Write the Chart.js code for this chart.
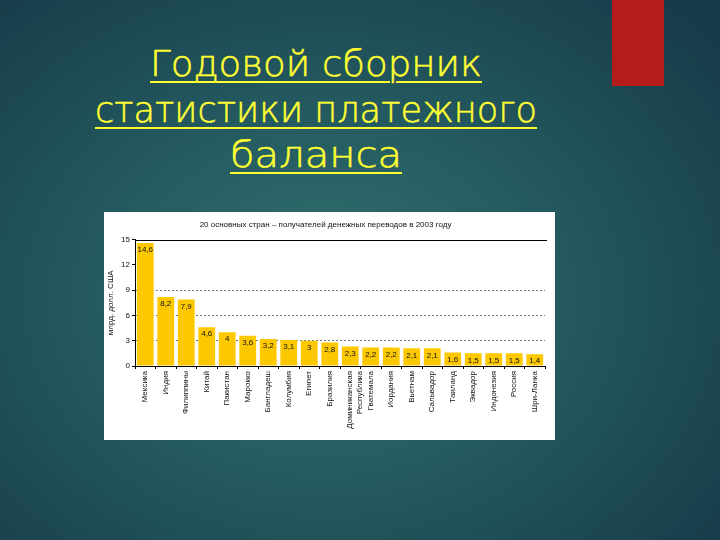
<!DOCTYPE html>
<html>
<head>
<meta charset="utf-8">
<script src="https://cdn.jsdelivr.net/npm/chart.js@4/dist/chart.umd.min.js"></script>
<style>
  html, body { margin: 0; padding: 0; }
  body {
    width: 720px; height: 540px; overflow: hidden; position: relative;
    background: radial-gradient(ellipse 70% 75% at 45% 55%, #32716f 0%, #245b60 45%, #173b4a 100%);
  }
  #redbar { position: absolute; left: 612px; top: 0; width: 52px; height: 86px; background: #b41b1d; }
  .tl {
    position: absolute; left: 316px; white-space: nowrap;
    color: #ffff33; font-family: 'DejaVu Sans', sans-serif; font-weight: 200;
    -webkit-text-stroke: 0.5px #ffff33;
    font-size: 36px; line-height: 40px; text-decoration: underline; text-decoration-thickness: 2px;
    text-underline-offset: 5px; transform-origin: 0 0;
  }
  #box { position: absolute; left: 104px; top: 212px; width: 451px; height: 228px; background: #ffffff; }
</style>
</head>
<body>
<div id="redbar"></div>
<div class="tl" id="t1" data-w="332" style="top:44px">Годовой сборник</div>
<div class="tl" id="t2" data-w="442" style="top:90px">статистики платежного</div>
<div class="tl" id="t3" data-w="172" style="top:135px">баланса</div>
<div id="box"><canvas id="c" width="451" height="228"></canvas></div>
<script>
document.querySelectorAll('.tl').forEach(el => {
  const w = el.getBoundingClientRect().width;
  const target = parseFloat(el.dataset.w);
  const s = target / w;
  el.style.transform = 'translateX(' + (-target / 2) + 'px) scaleX(' + s + ')';
});

const chartTitle = '20 основных стран – получателей денежных переводов в 2003 году';
const yAxisTitle = 'млрд. долл. США';
const categories = ['Мексика', 'Индия', 'Филиппины', 'Китай', 'Пакистан', 'Марокко', 'Бангладеш', 'Колумбия', 'Египет', 'Бразилия', ['Доминиканская', 'Республика'], 'Гватемала', 'Иордания', 'Вьетнам', 'Сальвадор', 'Таиланд', 'Эквадор', 'Индонезия', 'Россия', 'Шри-Ланка'];
const values = [14.6, 8.2, 7.9, 4.6, 4.0, 3.6, 3.2, 3.1, 3.0, 2.8, 2.3, 2.2, 2.2, 2.1, 2.1, 1.6, 1.5, 1.5, 1.5, 1.4];
const yTicks = [0, 3, 6, 9, 12, 15];
const dashedGridValues = [3, 6, 9];

const FONT = "'Liberation Sans', Arial, sans-serif";

const valueLabels = {
  id: 'valueLabels',
  afterDatasetsDraw(chart) {
    const ctx = chart.ctx;
    const meta = chart.getDatasetMeta(0);
    ctx.save();
    ctx.font = '8px ' + FONT;
    ctx.fillStyle = '#111';
    ctx.textAlign = 'center';
    ctx.textBaseline = 'top';
    meta.data.forEach((bar, i) => {
      const txt = String(values[i]).replace('.', ',').replace(/,0$/, '');
      ctx.fillText(txt, bar.x, bar.y + 3);
    });
    ctx.restore();
  }
};

const topLine = {
  id: 'topLine',
  afterDraw(chart) {
    const y = chart.scales.y.getPixelForValue(15);
    const ctx = chart.ctx;
    ctx.save();
    ctx.strokeStyle = '#000';
    ctx.lineWidth = 1;
    ctx.beginPath();
    ctx.moveTo(chart.chartArea.left, Math.round(y) + 0.5);
    ctx.lineTo(chart.chartArea.right + 2, Math.round(y) + 0.5);
    ctx.stroke();
    ctx.restore();
  }
};

new Chart(document.getElementById('c'), {
  type: 'bar',
  data: {
    labels: categories,
    datasets: [{
      data: values,
      backgroundColor: '#fdc800',
      borderWidth: 0,
      barPercentage: 0.82,
      categoryPercentage: 1.0
    }]
  },
  options: {
    responsive: false,
    animation: false,
    devicePixelRatio: 1,
    layout: { padding: { left: 2, right: 10, top: 0, bottom: 0 } },
    plugins: {
      legend: { display: false },
      tooltip: { enabled: false },
      title: {
        display: true,
        text: chartTitle,
        color: '#111',
        font: { family: FONT, size: 8, weight: 'normal' },
        padding: { top: 8, bottom: 10 }
      }
    },
    scales: {
      x: {
        afterFit(scale) { scale.height = 74; },
        grid: {
          offset: true,
          drawOnChartArea: false,
          drawTicks: true,
          tickLength: 3,
          color: '#000'
        },
        border: { color: '#000', width: 1 },
        ticks: {
          autoSkip: false,
          minRotation: 90,
          maxRotation: 90,
          padding: 2,
          color: '#111',
          font: { family: FONT, size: 8 }
        }
      },
      y: {
        min: 0,
        max: 15,
        afterFit(scale) { scale.width = 29; },
        afterBuildTicks(scale) { scale.ticks = yTicks.map(v => ({ value: v })); },
        grid: {
          color: (c) => dashedGridValues.includes(c.tick && c.tick.value) ? '#777' : 'rgba(0,0,0,0)',
          tickColor: '#000',
          tickLength: 3,
          drawTicks: true
        },
        border: { color: '#000', width: 1, dash: [2, 2] },
        ticks: {
          color: '#111',
          padding: 2,
          font: { family: FONT, size: 8 }
        },
        title: {
          display: true,
          text: yAxisTitle,
          color: '#111',
          padding: { top: 0, bottom: 2 },
          font: { family: FONT, size: 8 }
        }
      }
    }
  },
  plugins: [valueLabels, topLine]
});
</script>
</body>
</html>
